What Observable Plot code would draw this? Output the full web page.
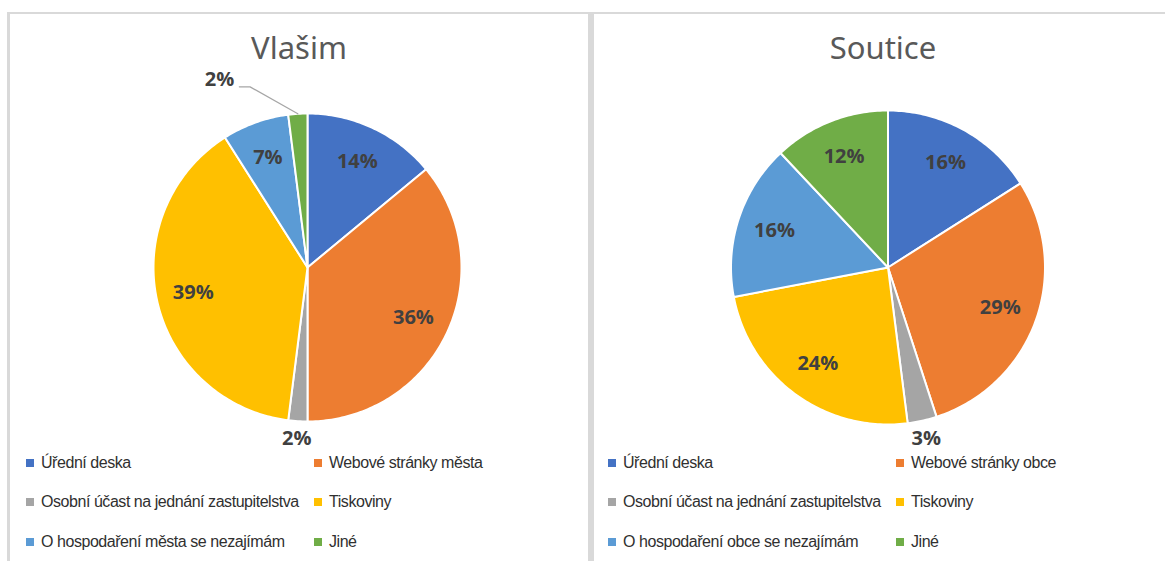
<!DOCTYPE html>
<html><head><meta charset="utf-8">
<script src="https://cdn.jsdelivr.net/npm/d3@7"></script>
<script src="https://cdn.jsdelivr.net/npm/@observablehq/plot@0.6"></script>
<style>
html,body{margin:0;padding:0;background:#fff;width:1165px;height:561px;overflow:hidden;}
.panel{position:absolute;top:12px;height:580px;width:584px;box-sizing:border-box;border:3px solid #d9d9d9;border-top-width:2px;background:#fff;}
.title{position:absolute;left:0;right:0;text-align:center;top:17px;font:31px/32px "Noto Sans",sans-serif;color:#595959;}
.plot{position:absolute;left:0;top:50px;}
.legend{position:absolute;top:429px;display:grid;grid-template-columns:288px 288px;grid-auto-rows:39.5px;}
.item{display:flex;align-items:center;font:16px "Liberation Sans",Arial,sans-serif;letter-spacing:-0.45px;color:#303030;white-space:nowrap;}
.sw{width:8px;height:8px;margin-right:7px;flex:none;}
</style></head><body>
<script>
// ---- data ----
const titles = ["Vlašim", "Soutice"];
const categoriesVlasim = ["Úřední deska", "Webové stránky města", "Osobní účast na jednání zastupitelstva", "Tiskoviny", "O hospodaření města se nezajímám", "Jiné"];
const valuesVlasim = [14, 36, 2, 39, 7, 2];
const categoriesSoutice = ["Úřední deska", "Webové stránky obce", "Osobní účast na jednání zastupitelstva", "Tiskoviny", "O hospodaření obce se nezajímám", "Jiné"];
const valuesSoutice = [16, 29, 3, 24, 16, 12];
const palette = ["#4472C4", "#ED7D31", "#A5A5A5", "#FFC000", "#5B9BD5", "#70AD47"];

// ---- layout ----
const panels = [
  {title: titles[0], categories: categoriesVlasim, values: valuesVlasim, left: 7, cx: 297, cy: 203, r: 154, legendLeft: 16},
  {title: titles[1], categories: categoriesSoutice, values: valuesSoutice, left: 591, cx: 293.5, cy: 203, r: 157, legendLeft: 14}
];

function slices(categories, values) {
  const total = d3.sum(values);
  let acc = 0;
  return categories.map((c, i) => {
    const a0 = acc / total * 2 * Math.PI;
    acc += values[i];
    const a1 = acc / total * 2 * Math.PI;
    return {category: c, value: values[i], a0, a1, mid: (a0 + a1) / 2, share: values[i] / total};
  });
}

function arcPoints(s) {
  const pts = [{category: s.category, x: 0, y: 0}];
  const n = Math.max(2, Math.ceil((s.a1 - s.a0) / (Math.PI / 180)));
  for (let k = 0; k <= n; k++) {
    const a = s.a0 + (s.a1 - s.a0) * k / n;
    pts.push({category: s.category, x: Math.sin(a), y: Math.cos(a)});
  }
  return pts;
}

const pct = s => Math.round(s.share * 100) + "%";
const labelFont = "'Open Sans', 'Liberation Sans', sans-serif";

for (const p of panels) {
  const panel = document.createElement("div");
  panel.className = "panel";
  panel.style.left = p.left + "px";
  document.body.appendChild(panel);

  const t = document.createElement("div");
  t.className = "title";
  t.textContent = p.title;
  panel.appendChild(t);

  const ss = slices(p.categories, p.values);
  const arcData = ss.flatMap(arcPoints);
  const insideLabels = ss.filter(s => s.share >= 0.05).map(s => ({text: pct(s), x: 0.76 * Math.sin(s.mid), y: 0.76 * Math.cos(s.mid)}));
  const outsideLabels = ss.filter(s => s.share < 0.05 && Math.cos(s.mid) < 0.5).map(s => ({text: pct(s), x: 1.115 * Math.sin(s.mid), y: 1.115 * Math.cos(s.mid)}));
  const leaderSlices = ss.filter(s => s.share < 0.05 && Math.cos(s.mid) >= 0.5);
  const leaderLines = leaderSlices.flatMap(s => {
    const x0 = Math.sin(s.mid), y0 = Math.cos(s.mid);
    const x1 = x0 - 0.31, y1 = y0 + 0.175;
    return [{id: s.category, x: x0, y: y0}, {id: s.category, x: x1, y: y1}, {id: s.category, x: x1 - 0.07, y: y1}];
  });
  const leaderLabels = leaderSlices.map(s => ({text: pct(s), x: Math.sin(s.mid) - 0.38, y: Math.cos(s.mid) + 0.175}));

  const chart = Plot.plot({
    width: 578, height: 390, margin: 0,
    x: {domain: [-1, 1], range: [p.cx - p.r, p.cx + p.r], axis: null},
    y: {domain: [-1, 1], range: [p.cy + p.r, p.cy - p.r], axis: null},
    color: {domain: p.categories, range: palette},
    style: {background: "transparent", overflow: "visible"},
    marks: [
      Plot.line(arcData, {x: "x", y: "y", z: "category", fill: "category", stroke: "white", strokeWidth: 2, curve: "linear-closed", strokeLinejoin: "round"}),
      Plot.line(leaderLines, {x: "x", y: "y", z: "id", stroke: "#a6a6a6", strokeWidth: 1.2}),
      Plot.text(insideLabels, {x: "x", y: "y", text: "text", fontSize: 20, fontWeight: "bold", fill: "#404040", fontFamily: labelFont}),
      Plot.text(outsideLabels, {x: "x", y: "y", text: "text", fontSize: 20, fontWeight: "bold", fill: "#404040", fontFamily: labelFont}),
      Plot.text(leaderLabels, {x: "x", y: "y", text: "text", fontSize: 20, fontWeight: "bold", fill: "#404040", fontFamily: labelFont, textAnchor: "end", dx: -5, dy: -7})
    ]
  });
  chart.classList.add("plot");
  panel.appendChild(chart);

  const legend = document.createElement("div");
  legend.className = "legend";
  legend.style.left = p.legendLeft + "px";
  p.categories.forEach((c, i) => {
    const item = document.createElement("div");
    item.className = "item";
    const sw = document.createElement("span");
    sw.className = "sw";
    sw.style.background = palette[i];
    item.appendChild(sw);
    item.appendChild(document.createTextNode(c));
    legend.appendChild(item);
  });
  panel.appendChild(legend);
}
</script></body></html>
